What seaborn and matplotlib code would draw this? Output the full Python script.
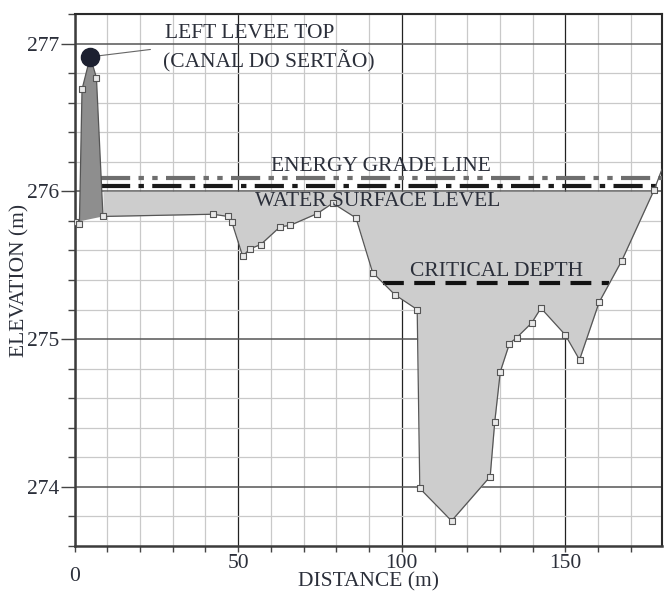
import numpy as np
import pandas as pd
import matplotlib
matplotlib.use("Agg")
import matplotlib.pyplot as plt
from matplotlib.ticker import MultipleLocator
import seaborn as sns

# Cross-section survey: station (m) and ground elevation (m)
station = [0, 1.5, 2.3, 4.8, 6.7, 8.7, 42.3, 46.9, 48.1, 51.4, 53.5, 56.9,
           62.8, 65.9, 74.2, 78.9, 86.0, 91.1, 97.9, 104.7, 105.5, 115.2,
           127.0, 128.4, 130.1, 132.9, 135.1, 139.7, 142.5, 149.9, 154.3,
           160.3, 167.2, 177.1, 179.5]
elevation = [275.79, 275.78, 276.69, 276.91, 276.77, 275.83, 275.845, 275.83,
             275.79, 275.56, 275.61, 275.64, 275.76, 275.77, 275.85, 275.92,
             275.82, 275.45, 275.30, 275.20, 273.99, 273.77, 274.07, 274.44,
             274.78, 274.97, 275.01, 275.11, 275.21, 275.03, 274.86, 275.25,
             275.53, 276.01, 276.15]

levee_top = (4.8, 276.91)
levee_end = 8.7            # right toe of the levee

water_fill_level = 276.0
wsl_elev = 276.035          # water surface level
egl_elev = 276.09           # energy grade line
crit_elev = 275.38          # critical depth
crit_range = (94.2, 163.4)
line_start = 8.1

df = pd.DataFrame({"station": station, "elevation": elevation})

sns.set_theme(style="white")
plt.rcParams["font.family"] = ["Liberation Serif", "DejaVu Serif"]
text_color = "#2b2f3a"

fig = plt.figure(figsize=(6.64, 5.92), dpi=100)
ax = fig.add_axes([74.5 / 664, 1 - 546 / 592, (662 - 74.5) / 664, (546 - 14) / 592])

xs = np.array(station)
ys = np.array(elevation)

# levee body
lev = xs <= levee_end
ax.fill(xs[lev], ys[lev], color="#8e8e8e", zorder=2, lw=0)

# water in the channel
xw = np.linspace(levee_end, xs[-1], 4000)
yw = np.interp(xw, xs, ys)
ax.fill_between(xw, yw, water_fill_level, where=yw < water_fill_level,
                color="#cdcdcd", lw=0, zorder=2)

# ground profile
sns.lineplot(data=df, x="station", y="elevation", sort=False, ax=ax,
             color="#555555", lw=0.9, zorder=4)
pts = df[(df.station != levee_top[0]) & (df.station < 179)]
sns.scatterplot(data=pts, x="station", y="elevation", ax=ax, marker="s", s=14,
                facecolor="#e8e8e8", edgecolor="#555555", linewidth=0.8, zorder=5)

# hydraulic lines
ax.plot([line_start, 179.5], [egl_elev, egl_elev], color="#6e6e6e", lw=3,
        dashes=(7, 2, 1.3, 2, 1.3, 2), zorder=3)
ax.plot([line_start, 179.5], [wsl_elev, wsl_elev], color="#1a1a1a", lw=3,
        dashes=(7, 2, 1.3, 2), zorder=3)
ax.plot(crit_range, [crit_elev, crit_elev], color="#111111", lw=3,
        dashes=(5, 2.5), zorder=3)

# levee top marker and leader
ax.plot([levee_top[0], 23.2], [levee_top[1], 276.96], color="#666666", lw=0.8, zorder=5)
ax.scatter([levee_top[0]], [levee_top[1]], s=170, color="#1c2030", zorder=6)

fs = 15.5
ax.text(27.5, 277.07, "LEFT LEVEE TOP", fontsize=fs, color=text_color, va="center", zorder=7)
ax.text(27.0, 276.88, "(CANAL DO SERTÃO)", fontsize=fs, color=text_color, va="center", zorder=7)
ax.text(93.5, 276.165, "ENERGY GRADE LINE", fontsize=fs, color=text_color, ha="center", va="center", zorder=7)
ax.text(92.5, 275.93, "WATER SURFACE LEVEL", fontsize=fs, color=text_color, ha="center", va="center", zorder=7)
ax.text(102.5, 275.455, "CRITICAL DEPTH", fontsize=fs, color=text_color, ha="left", va="center", zorder=7)

ax.set_xlim(0, 179.5)
ax.set_ylim(273.6, 277.2)

ax.xaxis.set_major_locator(MultipleLocator(50))
ax.xaxis.set_minor_locator(MultipleLocator(10))
ax.yaxis.set_major_locator(MultipleLocator(1))
ax.yaxis.set_minor_locator(MultipleLocator(0.2))

ax.grid(which="minor", color="#c9c9c9", lw=0.9, zorder=0)
ax.grid(which="major", axis="x", color="#222222", lw=0.9, zorder=1)
ax.grid(which="major", axis="y", color="#555555", lw=1.1, zorder=1)
ax.set_axisbelow(True)

ax.tick_params(axis="both", which="major", labelsize=fs, labelcolor=text_color,
               color="#444444", direction="out", bottom=True, left=True)
ax.tick_params(axis="y", which="major", length=10, width=1, pad=1)
ax.tick_params(axis="y", which="minor", length=5, width=1, left=True, color="#444444")
ax.tick_params(axis="x", which="major", length=4, width=1, pad=1.5)
ax.tick_params(axis="x", which="minor", length=4, width=1, bottom=True, color="#444444")
ax.set_xticks([0, 50, 100, 150])
ax.set_yticks([274, 275, 276, 277])
first = ax.xaxis.get_major_ticks()[0]
first.tick1line.set_markersize(12)
first.set_pad(11)

for side in ["left", "bottom"]:
    ax.spines[side].set_color("#3c3c3c")
    ax.spines[side].set_linewidth(1.8)
for side in ["top", "right"]:
    ax.spines[side].set_color("#2a2a2a")
    ax.spines[side].set_linewidth(1.5)

ax.set_xlabel("DISTANCE (m)", fontsize=fs, color=text_color)
ax.set_ylabel("ELEVATION (m)", fontsize=fs, color=text_color)
ax.xaxis.set_label_coords(0.5, -0.049)
ax.yaxis.set_label_coords(-0.077, 0.5)

fig.savefig("out.png", dpi=100)
